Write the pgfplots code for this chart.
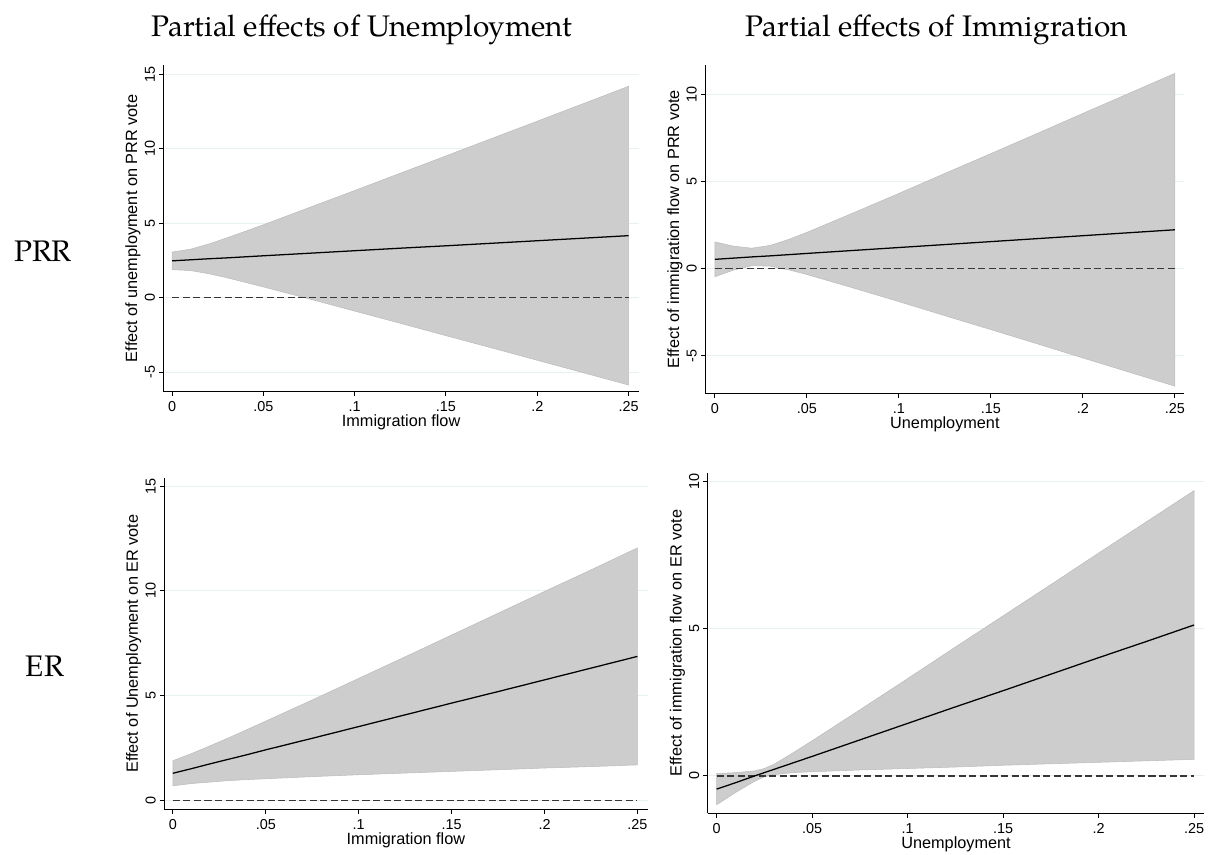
\documentclass[border=0pt]{standalone}
\usepackage{fontspec}
\setmainfont{Liberation Sans}
\newfontfamily\titlefont{TeX Gyre Pagella}
\usepackage{pgfplots}
\usepgfplotslibrary{fillbetween}
\pgfplotsset{compat=1.18}
\usepackage{pgfplotstable}

\definecolor{gridc}{RGB}{232,240,242}
\definecolor{bandfill}{RGB}{205,205,205}
\definecolor{bandedge}{RGB}{188,188,188}
\definecolor{zeroc}{RGB}{55,55,55}

% marginal effects with 95% bands: x, estimate, upper, lower
\pgfplotstableread{
x      m     u      l
0      2.48  3.07   1.89
0.01   2.55  3.26   1.83
0.02   2.62  3.61   1.62
0.03   2.68  4.02   1.35
0.04   2.75  4.46   1.04
0.05   2.82  4.90   0.73
0.075  2.99  6.05  -0.07
0.1    3.16  7.20  -0.89
0.125  3.33  8.36  -1.71
0.15   3.49  9.52  -2.54
0.175  3.66  10.69 -3.36
0.2    3.83  11.85 -4.19
0.225  4.00  13.02 -5.02
0.25   4.17  14.19 -5.85
}\prrunemp

\pgfplotstableread{
x      m     u      l
0      0.54  1.54  -0.46
0.01   0.61  1.30  -0.08
0.02   0.68  1.18   0.17
0.03   0.74  1.34   0.15
0.04   0.81  1.68  -0.06
0.05   0.88  2.09  -0.33
0.075  1.05  3.20  -1.10
0.1    1.22  4.33  -1.89
0.125  1.39  5.48  -2.70
0.15   1.56  6.62  -3.50
0.175  1.73  7.77  -4.31
0.2    1.90  8.93  -5.13
0.225  2.07  10.08 -5.94
0.25   2.24  11.23 -6.75
}\prrimm

\pgfplotstableread{
x      m     u      l
0      1.29  1.89   0.69
0.01   1.51  2.23   0.80
0.02   1.74  2.60   0.87
0.03   1.96  2.98   0.94
0.04   2.18  3.38   0.99
0.05   2.41  3.78   1.03
0.075  2.96  4.79   1.13
0.1    3.52  5.82   1.22
0.125  4.08  6.85   1.30
0.15   4.64  7.89   1.38
0.175  5.19  8.93   1.46
0.2    5.75  9.97   1.54
0.225  6.31  11.00  1.61
0.25   6.87  12.05  1.69
}\erunemp

\pgfplotstableread{
x      m     u      l
0     -0.45  0.08  -0.98
0.01  -0.23  0.11  -0.56
0.02   0.00  0.17  -0.18
0.025  0.11  0.25  -0.03
0.03   0.22  0.39   0.04
0.04   0.44  0.78   0.11
0.05   0.66  1.19   0.14
0.075  1.22  2.24   0.20
0.1    1.78  3.30   0.25
0.125  2.34  4.37   0.30
0.15   2.89  5.43   0.36
0.175  3.45  6.49   0.41
0.2    4.01  7.56   0.46
0.225  4.56  8.62   0.51
0.25   5.12  9.68   0.56
}\erimm

\pgfplotsset{
  panel/.style={
    scale only axis,
    axis x line*=bottom, axis y line*=left,
    x axis line style={-}, y axis line style={-},
    axis line style={black, line width=0.75pt},
    tick align=outside, major tick length=3.4pt,
    every tick/.style={black, line width=0.75pt},
    xtick={0,0.05,0.1,0.15,0.2,0.25},
    xticklabels={0,.05,.1,.15,.2,.25},
    ymajorgrids, grid style={gridc, line width=0.75pt},
    tick label style={font=\fontsize{10.8}{12}\selectfont, inner sep=0pt},
    /pgf/number format/assume math mode=true,
    xticklabel style={anchor=base, yshift=-11.6pt},
    yticklabel style={xshift=-3.2pt, rotate=90, anchor=base},
    label style={font=\fontsize{12.2}{14}\selectfont, inner sep=0pt},
    xlabel style={at={(axis description cs:0.5,0)}, anchor=base, yshift=-26.25pt},
    ylabel style={at={(axis description cs:0,0.5)}, anchor=base, yshift=19.8pt},
  },
  band/.style={fill=bandfill, draw=bandedge, line width=0.4pt},
  est/.style={black, line width=0.95pt},
  zero/.style={zeroc, line width=1pt, dash pattern=on 5.3pt off 2.6pt},
}

\begin{document}
\begin{tikzpicture}
\path (0pt,0pt) rectangle (906pt,-641.25pt);

\node[font=\titlefont\fontsize{22.3}{26}\selectfont, anchor=base] at (271.5pt,-27.5pt) {Partial effects of Unemployment};
\node[font=\titlefont\fontsize{22.3}{26}\selectfont, anchor=base] at (702.75pt,-27.5pt) {Partial effects of Immigration};
\node[font=\titlefont\fontsize{22.3}{26}\selectfont, anchor=base] at (32.25pt,-196.275pt) {PRR};
\node[font=\titlefont\fontsize{22.3}{26}\selectfont, anchor=base] at (33.75pt,-507.525pt) {ER};

% top left
\begin{axis}[panel, at={(122.7pt,-293.775pt)}, anchor=south west,
  width=356.25pt, height=245pt,
  xmin=-0.00465, xmax=0.2555, ymin=-6.3, ymax=15.62,
  ytick={-5,0,5,10,15},
  xlabel={Immigration flow}, ylabel={Effect of unemployment on PRR vote}]
  \addplot[name path=U, draw=none] table[x=x, y=u] {\prrunemp};
  \addplot[name path=L, draw=none] table[x=x, y=l] {\prrunemp};
  \addplot[band] fill between[of=U and L];
  \addplot[zero] coordinates {(0,0) (0.25,0)};
  \addplot[est] table[x=x, y=m] {\prrunemp};
\end{axis}

% top right
\begin{axis}[panel, at={(529.05pt,-294.975pt)}, anchor=south west,
  width=359.2pt, height=246.2pt,
  xmin=-0.00516, xmax=0.2551, ymin=-7.16, ymax=11.71,
  ytick={-5,0,5,10},
  xlabel={Unemployment}, ylabel={Effect of immigration flow on PRR vote}]
  \addplot[name path=U, draw=none] table[x=x, y=u] {\prrimm};
  \addplot[name path=L, draw=none] table[x=x, y=l] {\prrimm};
  \addplot[band] fill between[of=U and L];
  \addplot[zero] coordinates {(0,0) (0.25,0)};
  \addplot[est] table[x=x, y=m] {\prrimm};
\end{axis}

% bottom left
\begin{axis}[panel, at={(123.225pt,-606.75pt)}, anchor=south west,
  width=362.4pt, height=248pt,
  xmin=-0.0046, xmax=0.2554, ymin=-0.415, ymax=15.37,
  ytick={0,5,10,15},
  xlabel={Immigration flow}, ylabel={Effect of Unemployment on ER vote}]
  \addplot[name path=U, draw=none] table[x=x, y=u] {\erunemp};
  \addplot[name path=L, draw=none] table[x=x, y=l] {\erunemp};
  \addplot[band] fill between[of=U and L];
  \addplot[zero] coordinates {(0,0) (0.25,0)};
  \addplot[est] table[x=x, y=m] {\erunemp};
\end{axis}

% bottom right
\begin{axis}[panel, at={(530.925pt,-609.975pt)}, anchor=south west,
  width=372.2pt, height=255.5pt,
  xmin=-0.00455, xmax=0.2553, ymin=-1.27, ymax=10.29,
  ytick={0,5,10},
  xlabel={Unemployment}, ylabel={Effect of immigration flow on ER vote}]
  \addplot[name path=U, draw=none] table[x=x, y=u] {\erimm};
  \addplot[name path=L, draw=none] table[x=x, y=l] {\erimm};
  \addplot[band] fill between[of=U and L];
  \addplot[zero] coordinates {(0,0) (0.25,0)};
  \addplot[est] table[x=x, y=m] {\erimm};
\end{axis}
\end{tikzpicture}
\end{document}
